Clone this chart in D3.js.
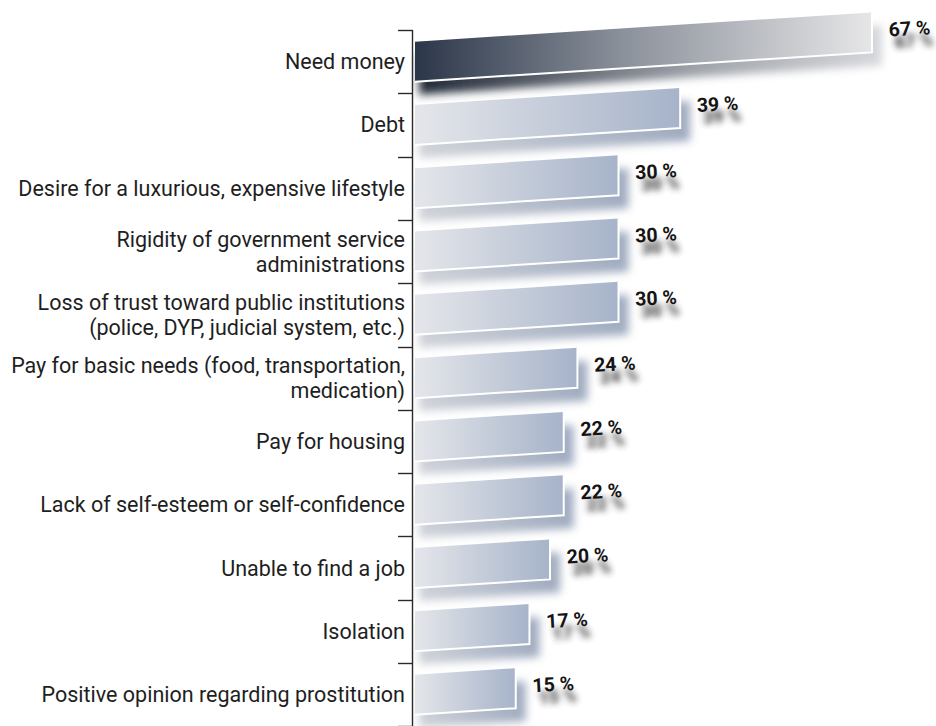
<!DOCTYPE html>
<html>
<head>
<meta charset="utf-8">
<script src="https://cdn.jsdelivr.net/npm/d3@7/dist/d3.min.js"></script>
<style>
  html, body { margin: 0; padding: 0; background: #ffffff; }
  svg { display: block; }
</style>
</head>
<body>
<div id="chart"></div>
<script>
// Reasons given, top to bottom ("\n" marks a line break in the axis label)
const categories = [
  "Need money",
  "Debt",
  "Desire for a luxurious, expensive lifestyle",
  "Rigidity of government service\nadministrations",
  "Loss of trust toward public institutions\n(police, DYP, judicial system, etc.)",
  "Pay for basic needs (food, transportation,\nmedication)",
  "Pay for housing",
  "Lack of self-esteem or self-confidence",
  "Unable to find a job",
  "Isolation",
  "Positive opinion regarding prostitution"
];
// Share of respondents, in percent
const values = [67, 39, 30, 30, 30, 24, 22, 22, 20, 17, 15];
const valueLabels = ["67 %", "39 %", "30 %", "30 %", "30 %", "24 %", "22 %", "22 %", "20 %", "17 %", "15 %"];

const width = 936, height = 726;
const axisX = 413;
const plotTop = 30, band = 63.3;
const barH = 40;
const tilt = 0.064; // upward rise per pixel of bar length

const svg = d3.select("#chart").append("svg")
  .attr("width", width).attr("height", height);

const defs = svg.append("defs");

// Gradients: highlighted first bar and the regular bars
const gFirst = defs.append("linearGradient").attr("id", "gradFirst")
  .attr("x1", "0%").attr("x2", "100%").attr("y1", "0%").attr("y2", "0%");
gFirst.append("stop").attr("offset", "0%").attr("stop-color", "#2b3649");
gFirst.append("stop").attr("offset", "45%").attr("stop-color", "#8a909a");
gFirst.append("stop").attr("offset", "100%").attr("stop-color", "#e6e6e7");

const gBar = defs.append("linearGradient").attr("id", "gradBar")
  .attr("x1", "0%").attr("x2", "100%").attr("y1", "0%").attr("y2", "0%");
gBar.append("stop").attr("offset", "0%").attr("stop-color", "#e4e6ea");
gBar.append("stop").attr("offset", "100%").attr("stop-color", "#a6b3c9");

const gShadowFirst = defs.append("linearGradient").attr("id", "gradShadowFirst")
  .attr("x1", "0%").attr("x2", "100%");
gShadowFirst.append("stop").attr("offset", "0%").attr("stop-color", "#18202e");
gShadowFirst.append("stop").attr("offset", "60%").attr("stop-color", "#9a9ea6");
gShadowFirst.append("stop").attr("offset", "100%").attr("stop-color", "#d4d6da");

const gShadow = defs.append("linearGradient").attr("id", "gradShadow")
  .attr("x1", "0%").attr("x2", "100%");
gShadow.append("stop").attr("offset", "0%").attr("stop-color", "#c4c8cf");
gShadow.append("stop").attr("offset", "100%").attr("stop-color", "#8796b0");

defs.append("filter").attr("id", "blurBar")
  .attr("x", "-20%").attr("y", "-60%").attr("width", "140%").attr("height", "220%")
  .append("feGaussianBlur").attr("stdDeviation", 4);
defs.append("filter").attr("id", "blurText")
  .attr("x", "-50%").attr("y", "-80%").attr("width", "200%").attr("height", "260%")
  .append("feGaussianBlur").attr("stdDeviation", 3.4);

const x = d3.scaleLinear().domain([0, 67]).range([axisX, 872]);
const y = d3.scaleBand().domain(d3.range(categories.length))
  .range([plotTop, plotTop + band * categories.length]).padding(0);

const x0 = x(0) + 2;

// Tilted bar outline: left edge centred in its band, right end lifted by tilt
function barCorners(i) {
  const cy = y(i) + y.bandwidth() / 2;
  const x1 = x(values[i]);
  const rise = tilt * (x1 - x0);
  return {
    tl: [x0, cy - barH / 2], bl: [x0, cy + barH / 2],
    tr: [x1, cy - barH / 2 - rise], br: [x1, cy + barH / 2 - rise]
  };
}
const polyPath = c => `M${c.tl}L${c.tr}L${c.br}L${c.bl}Z`;

const bars = svg.append("g").selectAll("g").data(d3.range(values.length)).join("g");

// Soft drop shadow beneath each bar
bars.append("path")
  .attr("d", i => {
    const c = barCorners(i);
    const dx = 10, dy = 13;
    return `M${[c.tl[0] + 4, c.tl[1] + dy]}L${[c.tr[0] + dx, c.tr[1] + dy]}L${[c.br[0] + dx, c.br[1] + dy]}L${[c.bl[0] + 4, c.bl[1] + dy]}Z`;
  })
  .attr("fill", i => i === 0 ? "url(#gradShadowFirst)" : "url(#gradShadow)")
  .attr("opacity", i => i === 0 ? 0.95 : 0.8)
  .attr("filter", "url(#blurBar)");

// Bar body
bars.append("path")
  .attr("d", i => polyPath(barCorners(i)))
  .attr("fill", i => i === 0 ? "url(#gradFirst)" : "url(#gradBar)");

// White highlight along the lower and right edges
bars.append("path")
  .attr("d", i => {
    const c = barCorners(i);
    return `M${c.bl}L${c.br}L${c.tr}`;
  })
  .attr("fill", "none")
  .attr("stroke", "#ffffff")
  .attr("stroke-width", 2);

// Value labels with a blurred shadow
const labelPos = i => {
  const c = barCorners(i);
  return [c.tr[0] + 17, c.tr[1] + 24];
};
bars.append("text")
  .attr("transform", i => { const p = labelPos(i); return `translate(${p[0] + 6},${p[1] + 12}) rotate(-4)`; })
  .attr("font-family", "Roboto, 'Open Sans', sans-serif")
  .attr("font-weight", 900).attr("font-size", 18)
  .attr("fill", "#333").attr("opacity", 0.9)
  .attr("filter", "url(#blurText)")
  .text(i => valueLabels[i]);
bars.append("text")
  .attr("transform", i => { const p = labelPos(i); return `translate(${p[0]},${p[1]}) rotate(-3)`; })
  .attr("font-family", "Roboto, 'Open Sans', sans-serif")
  .attr("font-weight", 700).attr("font-size", 19.5)
  .attr("fill", "#141414")
  .text(i => valueLabels[i]);

// Category axis: vertical rule with ticks between bands
const axis = svg.append("g");
axis.append("line")
  .attr("x1", axisX - 0.5).attr("x2", axisX - 0.5)
  .attr("y1", plotTop).attr("y2", height)
  .attr("stroke", "#2a2a2a").attr("stroke-width", 1.4);
axis.selectAll("line.tick").data(d3.range(categories.length + 1)).join("line")
  .attr("class", "tick")
  .attr("x1", axisX - 15).attr("x2", axisX)
  .attr("y1", i => Math.round(plotTop + band * i) + 0.5)
  .attr("y2", i => Math.round(plotTop + band * i) + 0.5)
  .attr("stroke", "#2a2a2a").attr("stroke-width", 1.4);

const lineH = 25;
axis.selectAll("text").data(d3.range(categories.length)).join("text")
  .attr("text-anchor", "end")
  .attr("font-family", "Roboto, 'Noto Sans', sans-serif")
  .attr("font-size", 21.5)
  .attr("fill", "#1e1e1e")
  .each(function (i) {
    const lines = categories[i].split("\n");
    const cy = y(i) + y.bandwidth() / 2;
    const first = cy - (lines.length - 1) * lineH / 2 + 7.5;
    d3.select(this).selectAll("tspan").data(lines).join("tspan")
      .attr("x", axisX - 8)
      .attr("y", (d, k) => first + k * lineH)
      .text(d => d);
  });
</script>
</body>
</html>
